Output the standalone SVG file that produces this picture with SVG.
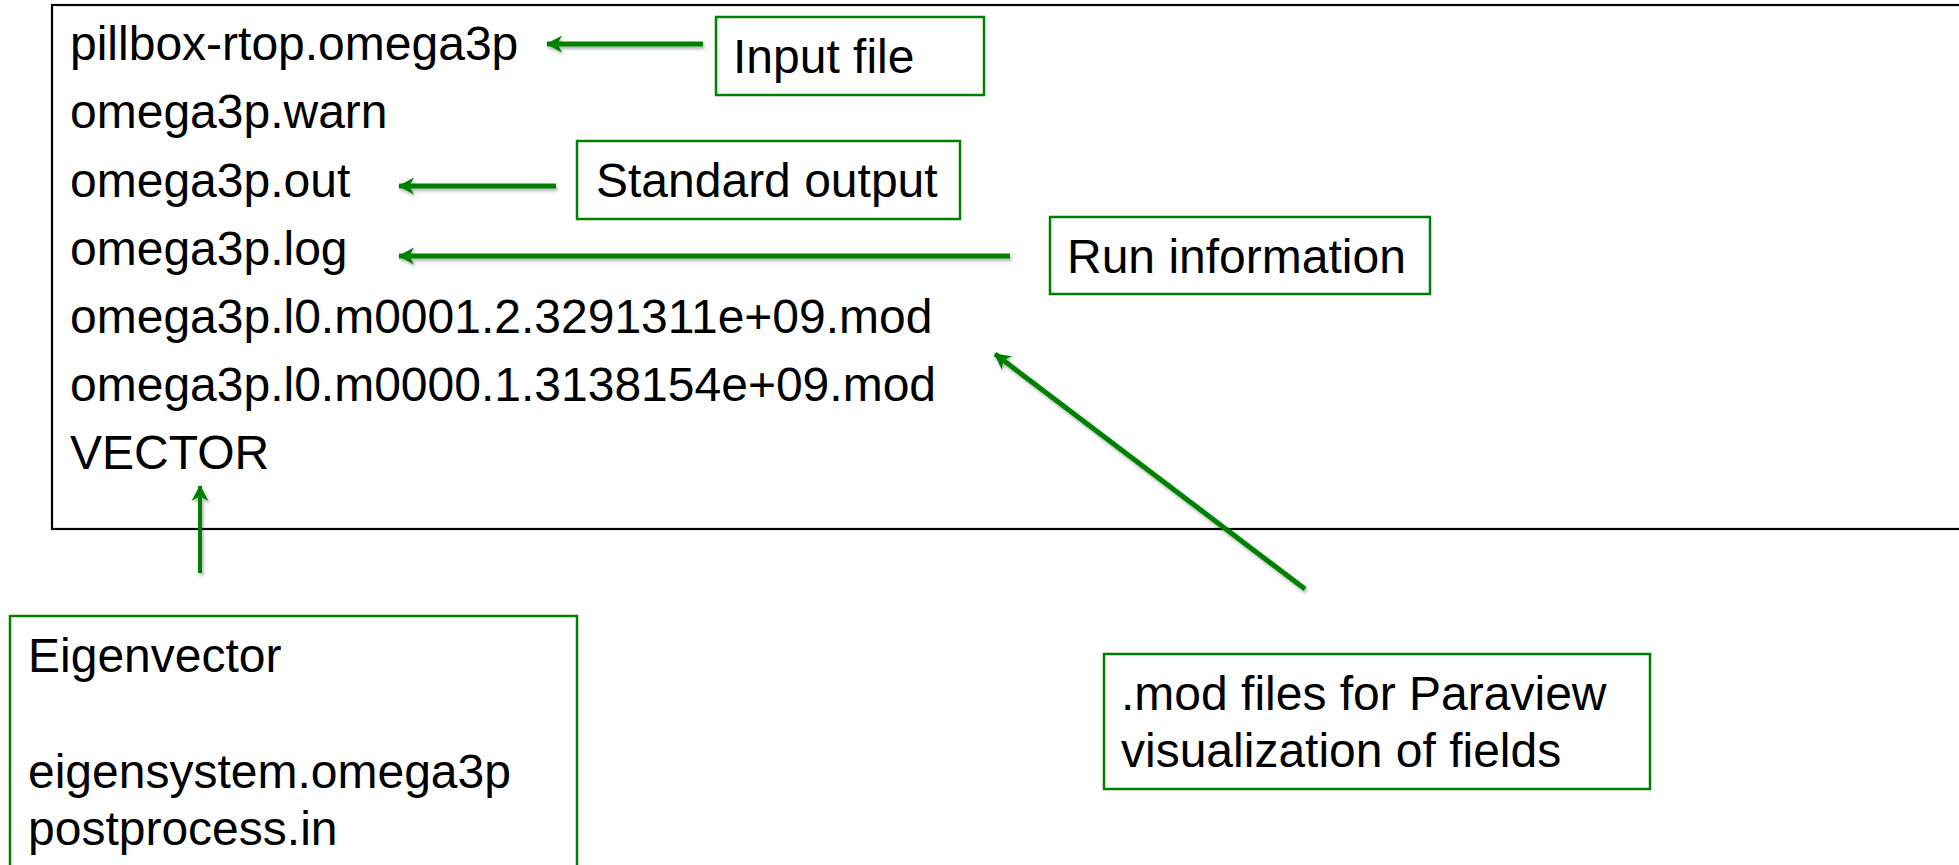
<svg xmlns="http://www.w3.org/2000/svg" width="1959" height="865" viewBox="0 0 1959 865">
  <style>
    .t { font-family: "Liberation Sans", Arial, sans-serif; font-size: 48px; fill: #000; }
    .box { fill: #fff; stroke: #008000; stroke-width: 2.5; }
    .frame { fill: none; stroke: #000; stroke-width: 2.2; }
    .arr { fill: none; stroke: #008000; stroke-width: 5; marker-end: url(#ah); }
  </style>
  <defs>
    <marker id="ah" markerUnits="userSpaceOnUse" viewBox="-16 -9 18 18" refX="0" refY="0" markerWidth="18" markerHeight="18" orient="auto">
      <path d="M1,0 L-15,-8.5 L-10.5,0 L-15,8.5 Z" fill="#008000"/>
    </marker>
    <filter id="sh" x="-10%" y="-50%" width="120%" height="200%">
      <feDropShadow dx="1.5" dy="2.5" stdDeviation="1.5" flood-color="#000" flood-opacity="0.3"/>
    </filter>
  </defs>

  <g id="files">
    <rect class="frame" x="52" y="5" width="1930" height="524"/>
    <text class="t" x="70" y="60">pillbox-rtop.omega3p</text>
    <text class="t" x="70" y="128">omega3p.warn</text>
    <text class="t" x="70" y="197">omega3p.out</text>
    <text class="t" x="70" y="265">omega3p.log</text>
    <text class="t" x="70" y="333">omega3p.l0.m0001.2.3291311e+09.mod</text>
    <text class="t" x="70" y="401">omega3p.l0.m0000.1.3138154e+09.mod</text>
    <text class="t" x="70" y="469">VECTOR</text>
  </g>

  <g id="input-file">
    <rect class="box" x="716" y="17" width="268" height="78"/>
    <text class="t" x="733" y="73">Input file</text>
  </g>

  <g id="standard-output">
    <rect class="box" x="577" y="141" width="383" height="78"/>
    <text class="t" x="596" y="197">Standard output</text>
  </g>

  <g id="run-information">
    <rect class="box" x="1050" y="217" width="380" height="77"/>
    <text class="t" x="1067" y="273">Run information</text>
  </g>

  <g id="mod-files">
    <rect class="box" x="1104" y="654" width="546" height="135"/>
    <text class="t" x="1121" y="710">.mod files for Paraview</text>
    <text class="t" x="1121" y="767">visualization of fields</text>
  </g>

  <g id="eigenvector">
    <rect class="box" x="10" y="616" width="567" height="280"/>
    <text class="t" x="28" y="672">Eigenvector</text>
    <text class="t" x="28" y="788">eigensystem.omega3p</text>
    <text class="t" x="28" y="845">postprocess.in</text>
  </g>

  <g id="connectors" filter="url(#sh)">
    <line class="arr" x1="703" y1="44" x2="547" y2="44"/>
    <line class="arr" x1="556" y1="186" x2="399" y2="186"/>
    <line class="arr" x1="1010" y1="256" x2="399" y2="256"/>
    <line class="arr" x1="1305" y1="589" x2="995" y2="354"/>
    <line class="arr" x1="200" y1="573" x2="200" y2="486" style="stroke-width:4"/>
  </g>
</svg>
